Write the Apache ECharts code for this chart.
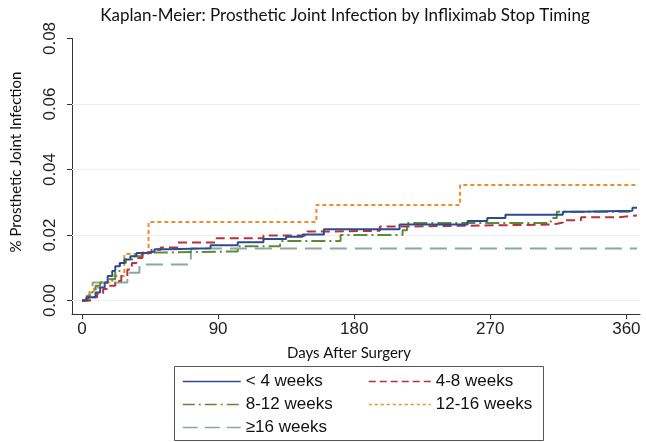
<!DOCTYPE html>
<html><head><meta charset="utf-8">
<script src="https://cdn.jsdelivr.net/npm/echarts@6/dist/echarts.min.js"></script>
<style>html,body{margin:0;padding:0;background:#fff}#c{width:646px;height:442px}</style>
</head><body><div id="c"></div>
<script>
// ---- data (days after surgery, cumulative infection proportion) ----
const seriesNames = ["< 4 weeks", "4-8 weeks", "8-12 weeks", "12-16 weeks", "\u226516 weeks"];
const lt4Days  = [0,3,9,12,15,17,20,22,25,28,32,36,42,48,58,85,103,120,135,146,160,210,255,268,280,318,330,364,367];
const lt4Vals  = [0,0.001,0.0025,0.004,0.0055,0.0075,0.009,0.0105,0.0115,0.0125,0.0135,0.0145,0.015,0.0157,0.016,0.0169,0.0178,0.0188,0.0195,0.0202,0.0218,0.0232,0.0243,0.0252,0.0262,0.0271,0.0274,0.0283,0.0283];
const w48Days  = [0,6,10,14,18,22,26,30,33,36,40,46,52,63,89,120,149,164,197,214,311,318,330,355,367];
const w48Vals  = [0,0.001,0.002,0.0035,0.0045,0.006,0.0075,0.0095,0.0115,0.013,0.0145,0.0155,0.0162,0.0177,0.019,0.0199,0.0211,0.0213,0.0226,0.0232,0.0238,0.0245,0.0254,0.026,0.026];
const w812Days = [0,4,7,9,12,18,22,25,29,34,40,58,103,131,171,212,215,310,314,362];
const w812Vals = [0,0.0015,0.003,0.0045,0.0055,0.0065,0.009,0.0115,0.0125,0.0135,0.0147,0.015,0.0166,0.0182,0.02,0.0215,0.0237,0.0252,0.0271,0.0274];
const w1216Days = [0,5,8,12,20,28,44,155,250,367];
const w1216Vals = [0,0.0025,0.004,0.0055,0.0075,0.0142,0.024,0.0292,0.0353,0.0353];
const gt16Days = [0,3,5,7,30,38,72,367];
const gt16Vals = [0,0.0015,0.003,0.0055,0.0085,0.011,0.0159,0.0159];
const xTicks = [0,90,180,270,360];
const yTicks = [0,0.02,0.04,0.06,0.08];

const colors = ["#2c4c92", "#b83339", "#5d8a36", "#f08c2a", "#8ca89e"];
const dashes = ["solid", [9,5], [14,4,2,4], [4,3], [17,8]];
const legendDashes = ["solid", [7,4], [12,4,2,4], [3,3], [15,7]];
const allDays = [lt4Days, w48Days, w812Days, w1216Days, gt16Days];
const allVals = [lt4Vals, w48Vals, w812Vals, w1216Vals, gt16Vals];

const series = [{
  name: "grid", type: "line", data: [], z: 1, silent: true,
  markLine: { silent: true, symbol: ["none","none"], label: {show:false},
    lineStyle: {color: "#e6eff2", type: "solid", width: 1},
    data: yTicks.slice(0,4).map(v => ({yAxis: v})) }
}];
seriesNames.forEach((n, i) => {
  series.push({
    name: n, type: "line", step: "end", symbol: "none", showSymbol: false, z: 3 + (4 - i),
    data: allDays[i].map((d, j) => [d, allVals[i][j]]),
    lineStyle: {color: colors[i], width: 2, type: dashes[i]},
    itemStyle: {color: colors[i], opacity: 0}
  });
});

const legPos = [[182,373,58],[368,373,62],[182,396,58],[368,396,62],[182,419,58]];
const legends = seriesNames.map((n, i) => ({
  data: [n], left: legPos[i][0], top: legPos[i][1], padding: 0,
  itemWidth: legPos[i][2], itemHeight: 14, itemGap: 0, selectedMode: false,
  itemStyle: {opacity: 0, borderWidth: 0},
  lineStyle: {width: 1.5, type: legendDashes[i], color: colors[i], opacity: 1},
  textStyle: {fontFamily: "Liberation Sans", fontSize: 17, color: "#111"}
}));

const chart = echarts.init(document.getElementById("c"), null, {renderer: "canvas"});
chart.setOption({
  animation: false,
  backgroundColor: "#fff",
  grid: {left: 72, right: 6, top: 38.5, bottom: 128},
  xAxis: {
    type: "value", min: -6.6, max: 369,
    axisLine: {show: true, onZero: false, lineStyle: {color: "#333", width: 1}},
    axisTick: {show: true, length: 5, customValues: xTicks, lineStyle: {color: "#333"}},
    axisLabel: {customValues: xTicks, margin: 7, fontFamily: "Liberation Sans Narrow, Liberation Sans", fontSize: 17, color: "#222"},
    splitLine: {show: false}
  },
  yAxis: {
    type: "value", min: -0.0041, max: 0.08,
    axisLine: {show: true, onZero: false, lineStyle: {color: "#333", width: 1}},
    axisTick: {show: true, length: 5, customValues: yTicks, lineStyle: {color: "#333"}},
    axisLabel: {customValues: yTicks, rotate: 90, margin: 13, formatter: v => v.toFixed(2),
      fontFamily: "Liberation Sans Narrow, Liberation Sans", fontSize: 17, color: "#222"},
    splitLine: {show: false}
  },
  legend: legends,
  series: series,
  graphic: [
    {type: "text", x: 345, y: 16, style: {text: "Kaplan-Meier: Prosthetic Joint Infection by Infliximab Stop Timing", font: "17px Lato", fill: "#111", align: "center", verticalAlign: "middle"}},
    {type: "text", x: 349, y: 353, style: {text: "Days After Surgery", font: "15px Lato", fill: "#111", align: "center", verticalAlign: "middle"}},
    {type: "text", x: 16, y: 162, rotation: Math.PI/2, style: {text: "% Prosthetic Joint Infection", font: "15px Lato", fill: "#111", align: "center", verticalAlign: "middle"}},
    {type: "rect", shape: {x: 174.5, y: 366.5, width: 369, height: 74}, style: {fill: "none", stroke: "#555", lineWidth: 1}}
  ]
});
</script></body></html>
